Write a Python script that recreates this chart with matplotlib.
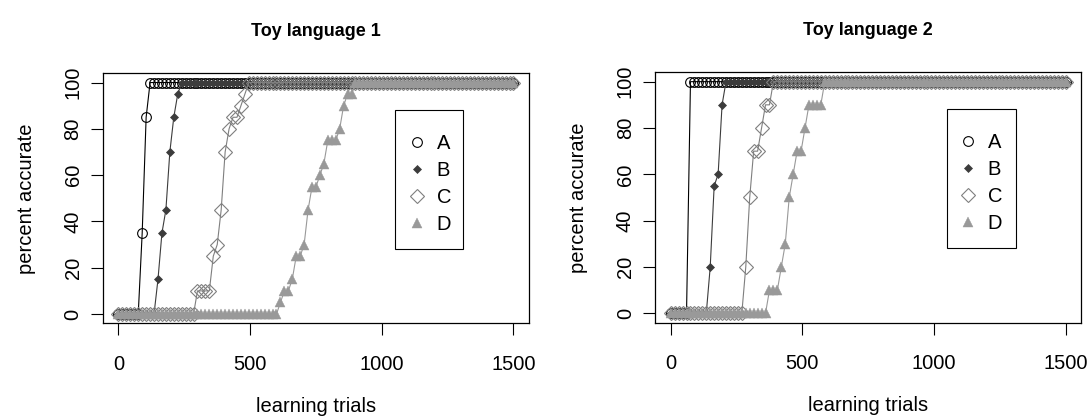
import matplotlib
matplotlib.use("Agg")
import matplotlib.pyplot as plt
import matplotlib.patches as mpatches
import numpy as np

plt.rcParams["font.family"] = ["Liberation Sans", "DejaVu Sans"]

# learning trials sampled every 15 trials
TRIALS = np.arange(0, 1501, 15)
SERIES = ["A", "B", "C", "D"]

# Toy language 1
A1 = [0] * 6 + [35, 85] + [100] * 93
B1 = [0] * 10 + [15, 35, 45, 70, 85, 95] + [100] * 85
C1 = [0] * 20 + [10, 10, 10, 10, 25, 30, 45, 70, 80, 85, 85, 90, 95] + [100] * 68
D1 = [0] * 41 + [5, 10, 10, 15, 25, 25, 30, 45, 55, 55, 60, 65, 75, 75, 75, 80, 90, 95, 95] + [100] * 41

# Toy language 2
A2 = [0] * 5 + [100] * 96
B2 = [0] * 10 + [20, 55, 60, 90] + [100] * 87
C2 = [0] * 19 + [20, 50, 70, 70, 80, 90, 90] + [100] * 75
D2 = [0] * 25 + [10, 10, 10, 20, 30, 50, 60, 70, 70, 80, 90, 90, 90, 90] + [100] * 62

PANELS = [
    ("Toy language 1", [A1, B1, C1, D1]),
    ("Toy language 2", [A2, B2, C2, D2]),
]

STYLES = [
    dict(color="black", marker="o", markersize=7, markerfacecolor="none",
         markeredgecolor="black", markeredgewidth=0.8),
    dict(color="#3c3c3c", marker="D", markersize=4.4, markerfacecolor="#3c3c3c",
         markeredgecolor="#3c3c3c", markeredgewidth=0.5),
    dict(color="#7f7f7f", marker="D", markersize=7, markerfacecolor="none",
         markeredgecolor="#7f7f7f", markeredgewidth=0.8),
    dict(color="#999999", marker="^", markersize=7.5, markerfacecolor="#999999",
         markeredgecolor="#999999", markeredgewidth=0.3),
]

FS = 14.5

fig = plt.figure(figsize=(10.89, 4.19), dpi=100, facecolor="white")
axes = [
    fig.add_axes([0.0943, 0.2284, 0.3917, 0.5967]),
    fig.add_axes([0.6014, 0.2301, 0.3917, 0.5971]),
]
# legend frame boxes (axes fraction) and legend anchor
LEG_BOX = [(0.685, 0.297, 0.160, 0.556), (0.684, 0.299, 0.163, 0.553)]
LEG_ANCHOR = [(0.7086, 0.758), (0.706, 0.758)]

for ax, (title, data), box, anchor in zip(axes, PANELS, LEG_BOX, LEG_ANCHOR):
    handles = []
    for name, vals, st in zip(SERIES, data, STYLES):
        ln, = ax.plot(TRIALS, vals, linewidth=0.8, label=name, **st)
        handles.append(ln)

    ax.set_xlim(-60, 1560)
    ax.set_ylim(-4, 104)
    ax.set_xticks([0, 500, 1000, 1500])
    ax.set_yticks([0, 20, 40, 60, 80, 100])
    ax.tick_params(axis="both", direction="out", length=8.5, width=0.8,
                   labelsize=FS, color="black")
    ax.tick_params(axis="x", pad=14)
    ax.tick_params(axis="y", pad=6)
    for lab in ax.get_yticklabels():
        lab.set_rotation(90)
        lab.set_va("center")
    for sp in ax.spines.values():
        sp.set_linewidth(0.9)
        sp.set_color("black")

    ax.set_xlabel("learning trials", fontsize=FS, labelpad=17)
    ax.set_ylabel("percent accurate", fontsize=FS, labelpad=20)
    ax.set_title(title, fontsize=13, fontweight="bold", pad=27)

    ax.add_patch(mpatches.Rectangle((box[0], box[1]), box[2], box[3], transform=ax.transAxes,
                                    facecolor="white", edgecolor="black", linewidth=0.8, zorder=5))
    leg = ax.legend(handles=handles, loc="upper left", bbox_to_anchor=anchor,
                    fontsize=FS, frameon=False, numpoints=1, handlelength=1.16,
                    handletextpad=0.41, borderpad=0, labelspacing=0.4, borderaxespad=0)
    leg.set_zorder(6)
    for h in leg.legend_handles:
        h.set_linestyle("none")

fig.savefig("out.png", dpi=100, facecolor="white")
plt.close()
